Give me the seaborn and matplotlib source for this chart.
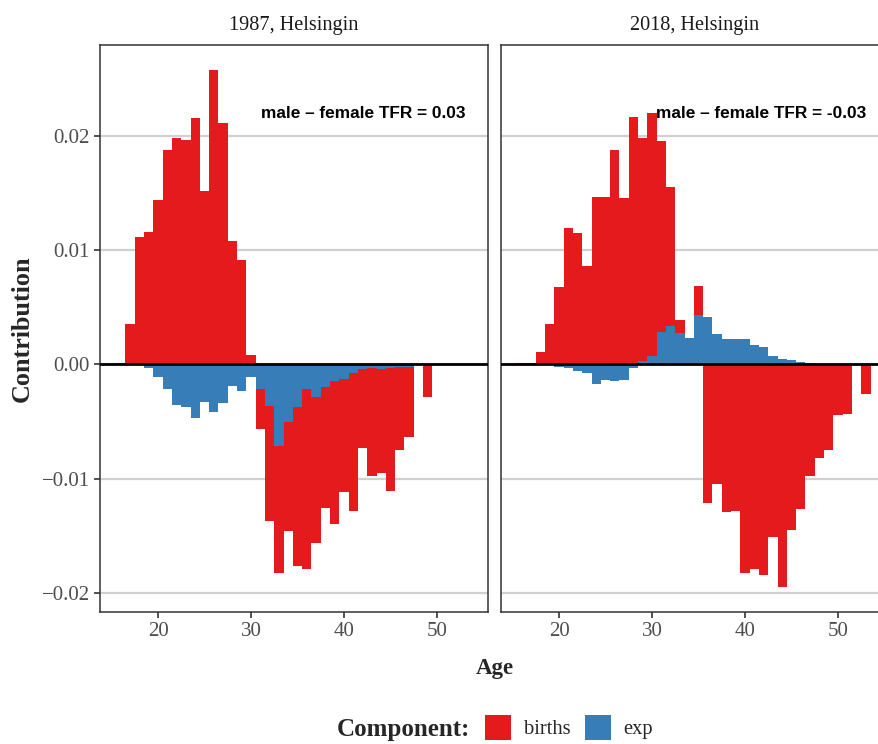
import numpy as np
import pandas as pd
import matplotlib
matplotlib.use("Agg")
import matplotlib.pyplot as plt
from matplotlib.patches import Patch
import seaborn as sns

# ---------------- data ----------------
ages_1987 = list(range(15, 50))
births_1987 = [0.0, 0.0001, 0.00355, 0.0110, 0.01162, 0.01434, 0.01876, 0.01978,
               0.0196, 0.02154, 0.01513, 0.02575, 0.0211, 0.01075, 0.00917, 0.00083,
               -0.00348, -0.01012, -0.01114, -0.00956, -0.01392, -0.01576, -0.01278,
               -0.01059, -0.01251, -0.00989, -0.01202, -0.00685, -0.00947, -0.00904,
               -0.01079, -0.00727, -0.00613, 0.0, -0.00282]
exp_1987 = [0.0, 0.0, 0.0, 0.0001, -0.0003, -0.00107, -0.00212, -0.00352,
            -0.0037, -0.00466, -0.00332, -0.00414, -0.00335, -0.00186, -0.0023, -0.00107,
            -0.00215, -0.00361, -0.00712, -0.00502, -0.00373, -0.00215, -0.00285,
            -0.00197, -0.00145, -0.00127, -0.0008, -0.00045, -0.00028, -0.00045,
            -0.00028, -0.0002, -0.0002, 0.0, 0.0]

ages_2018 = list(range(15, 54))
births_2018 = [0.0, 0.0001, 0.0001, 0.0011, 0.00355, 0.0068, 0.01189, 0.01145,
               0.00864, 0.01463, 0.01463, 0.01876, 0.01452, 0.02162, 0.01948, 0.0212,
               0.01667, 0.0121, 0.00114, 0.0, 0.00254, -0.01212, -0.01046, -0.01291,
               -0.01282, -0.01826, -0.01791, -0.01844, -0.01511, -0.01949, -0.01449,
               -0.01265, -0.00975, -0.00817, -0.00747, -0.0044, -0.00432, 0.0, -0.00256]
exp_2018 = [0.0, 0.0, 0.0, 0.0, 0.0, -0.0002, -0.00035, -0.00054,
            -0.0008, -0.00168, -0.00133, -0.00142, -0.00133, -0.00035, 0.0003, 0.00077,
            0.00285, 0.00338, 0.00275, 0.00232, 0.00432, 0.00417, 0.00268, 0.00224,
            0.00224, 0.00224, 0.00171, 0.00154, 0.00075, 0.00048, 0.0004,
            0.00022, 0.0001, 0.0, 0.0, 0.0, 0.0, 0.0, 0.0]

panel_titles = ["1987, Helsingin", "2018, Helsingin"]
tfr_labels = ["male \u2013 female TFR = 0.03", "male \u2013 female TFR = -0.03"]
components = ["births", "exp"]
comp_colors = {"births": "#E41A1C", "exp": "#377EB8"}
y_ticks = [-0.02, -0.01, 0.0, 0.01, 0.02]
y_ticklabels = ["\u22120.02", "\u22120.01", "0.00", "0.01", "0.02"]
x_ticks = [20, 30, 40, 50]

# ---------------- style ----------------
sns.set_style("white")
plt.rcParams["font.family"] = ["Liberation Serif", "DejaVu Serif"]
SERIF = ["Liberation Serif", "DejaVu Serif"]
SANS = ["Liberation Sans", "DejaVu Sans"]

W, H = 879, 744
fig = plt.figure(figsize=(W / 100, H / 100), dpi=100)

def px_rect(x0, y0, x1, y1):
    return [x0 / W, 1 - y1 / H, (x1 - x0) / W, (y1 - y0) / H]

axes = [fig.add_axes(px_rect(100, 45, 488, 611.7)),
        fig.add_axes(px_rect(501, 45, 889, 611.7))]

panels = [(ages_1987, births_1987, exp_1987), (ages_2018, births_2018, exp_2018)]

for i, (ax, (ages, births, exp)) in enumerate(zip(axes, panels)):
    df = pd.DataFrame({"age": ages, "births": births, "exp": exp})
    same_sign = np.sign(df["births"]) == np.sign(df["exp"])
    # stacked totals (ggplot-like stacking: exp next to zero, births outside)
    df["births_stack"] = np.where(same_sign, df["births"] + df["exp"], df["births"])
    ax.set_axisbelow(True)
    sns.barplot(data=df, x="age", y="births_stack", native_scale=True, width=1,
                color=comp_colors["births"], saturation=1, errorbar=None,
                linewidth=0, edgecolor="none", ax=ax)
    sns.barplot(data=df, x="age", y="exp", native_scale=True, width=1,
                color=comp_colors["exp"], saturation=1, errorbar=None,
                linewidth=0, edgecolor="none", ax=ax)
    ax.axhline(0, color="black", linewidth=2.0, zorder=5)
    ax.set_xlim(13.76, 55.48)
    ax.set_ylim(-0.02164, 0.02794)
    ax.set_yticks(y_ticks)
    ax.set_xticks(x_ticks)
    ax.set_xticklabels([str(t) for t in x_ticks])
    ax.yaxis.grid(True, color="#D0D0D0", linewidth=1.6)
    ax.xaxis.grid(False)
    ax.set_xlabel("")
    ax.set_ylabel("")
    for sp in ax.spines.values():
        sp.set_color("#333333")
        sp.set_linewidth(1.1)
        sp.set_visible(True)
    ax.tick_params(axis="x", length=4.3, width=1.2, color="#333333",
                   labelsize=15, labelcolor="#4D4D4D", pad=3, bottom=True)
    if i == 0:
        ax.set_yticklabels(y_ticklabels)
        ax.tick_params(axis="y", length=4.3, width=1.2, color="#333333",
                       labelsize=15, labelcolor="#4D4D4D", pad=3, left=True)
    else:
        ax.tick_params(axis="y", left=False, labelleft=False)
    for lab in ax.get_xticklabels() + ax.get_yticklabels():
        lab.set_family(SERIF)
    ax.text(53.05, 0.02197, tfr_labels[i], ha="right", va="center",
            fontsize=12.4, fontweight="bold", family=SANS, color="black", zorder=6)

# strip titles
fig.text(294 / W, 1 - 30 / H, panel_titles[0], ha="center", va="baseline",
         fontsize=14.6, color="#1A1A1A", family=SERIF)
fig.text(695 / W, 1 - 30 / H, panel_titles[1], ha="center", va="baseline",
         fontsize=14.6, color="#1A1A1A", family=SERIF)

# axis titles
fig.text(495 / W, 1 - 674 / H, "Age", ha="center", va="baseline",
         fontsize=16.5, fontweight="bold", family=SERIF)
fig.text(22 / W, 1 - 329 / H, "Contribution", ha="center", va="center",
         rotation=90, fontsize=18.8, fontweight="bold", family=SERIF)

# legend
fig.text(470 / W, 1 - 736 / H, "Component:", ha="right", va="baseline",
         fontsize=18, fontweight="bold", family=SERIF)
handles = [Patch(facecolor=comp_colors[c], edgecolor="none", label=c) for c in components]
leg = fig.legend(handles=handles, loc="center left", bbox_to_anchor=(485 / W, 1 - 727.5 / H),
                 ncol=2, frameon=False, borderpad=0, borderaxespad=0,
                 handlelength=1.27, handleheight=1.46, handletextpad=0.63,
                 columnspacing=0.68, prop={"family": SERIF, "size": 14.8})

fig.savefig("out.png", dpi=100)
